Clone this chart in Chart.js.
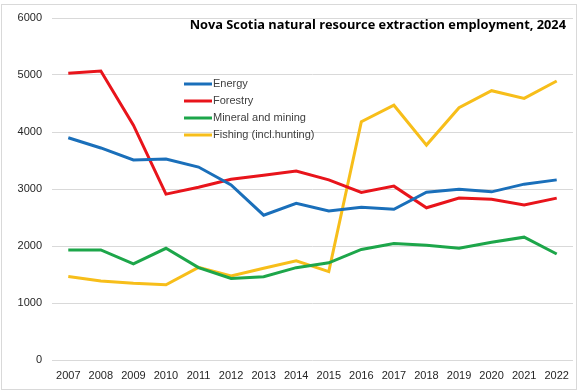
<!DOCTYPE html>
<html>
<head>
<meta charset="utf-8">
<script src="https://cdn.jsdelivr.net/npm/chart.js@4"></script>
<style>
    html, body { margin: 0; padding: 0; background: #fff; }
    .frame { position: absolute; left: 1px; top: 4px; width: 574px; height: 384px; border: 1px solid #d9d9d9; }
    .wrap { position: absolute; left: 0; top: 0; width: 579px; height: 391px; }
</style>
</head>
<body>
<div class="frame"></div>
<div class="wrap"><canvas id="myChart" width="579" height="391"></canvas></div>
<script>
const years = ['2007', '2008', '2009', '2010', '2011', '2012', '2013', '2014', '2015', '2016', '2017', '2018', '2019', '2020', '2021', '2022'];
const energy = [3900, 3720, 3510, 3525, 3385, 3070, 2540, 2750, 2615, 2680, 2645, 2945, 2995, 2950, 3085, 3160];
const forestry = [5030, 5070, 4120, 2910, 3030, 3170, 3240, 3315, 3160, 2940, 3050, 2670, 2840, 2820, 2720, 2840];
const mineral = [1930, 1930, 1685, 1960, 1620, 1430, 1460, 1620, 1705, 1940, 2045, 2015, 1960, 2065, 2155, 1860];
const fishing = [1465, 1385, 1345, 1320, 1625, 1475, 1610, 1740, 1550, 4180, 4470, 3770, 4425, 4725, 4590, 4895];
const yTicks = [0, 1000, 2000, 3000, 4000, 5000, 6000];
const titleText = 'Nova Scotia natural resource extraction employment, 2024';

const fontFamily = '"Liberation Sans", Arial, sans-serif';

// title and legend sit inside the plot area, so draw them ourselves
const overlay = {
    id: 'overlay',
    afterDraw(chart) {
        const ctx = chart.ctx;
        ctx.save();
        ctx.fillStyle = '#000';
        ctx.font = 'bold 12.8px "Open Sans", sans-serif';
        ctx.textAlign = 'right';
        ctx.textBaseline = 'middle';
        ctx.fillText(titleText, 566, 25);

        ctx.font = '11px ' + fontFamily;
        ctx.textAlign = 'left';
        chart.data.datasets.forEach(function (ds, i) {
            const y = 84 + i * 17;
            ctx.strokeStyle = ds.borderColor;
            ctx.lineWidth = 3;
            ctx.beginPath();
            ctx.moveTo(184, y);
            ctx.lineTo(212, y);
            ctx.stroke();
            ctx.fillStyle = '#404040';
            ctx.fillText(ds.label, 213, y);
        });
        ctx.restore();
    }
};

const makeSet = (label, data, color) => ({
    label: label,
    data: data,
    borderColor: color,
    backgroundColor: color,
    borderWidth: 3,
    pointRadius: 0,
    tension: 0,
    fill: false
});

new Chart('myChart', {
    type: 'line',
    data: {
        labels: years,
        datasets: [
            makeSet('Energy', energy, '#1A6FBA'),
            makeSet('Forestry', forestry, '#E8141B'),
            makeSet('Mineral and mining', mineral, '#1DA64A'),
            makeSet('Fishing (incl.hunting)', fishing, '#F7BE1A')
        ]
    },
    options: {
        responsive: false,
        animation: false,
        layout: { padding: { top: 18, right: 6, left: 0, bottom: 0 } },
        plugins: {
            legend: { display: false },
            title: { display: false },
            tooltip: { enabled: false }
        },
        scales: {
            x: {
                offset: true,
                grid: { display: false, drawTicks: false },
                border: { display: false },
                ticks: { color: '#262626', font: { family: fontFamily, size: 11 }, padding: 9, maxRotation: 0, autoSkip: false },
                afterFit: function (scale) { scale.height = 31; }
            },
            y: {
                min: 0,
                max: 6000,
                afterBuildTicks: function (scale) { scale.ticks = yTicks.map(v => ({ value: v })); },
                grid: { color: '#d9d9d9', lineWidth: 1, drawTicks: false },
                border: { display: false },
                ticks: {
                    color: '#262626',
                    font: { family: fontFamily, size: 11 },
                    padding: 10,
                    callback: function (value) { return String(value); }
                },
                afterFit: function (scale) { scale.width = 52; }
            }
        }
    },
    plugins: [overlay]
});
</script>
</body>
</html>
